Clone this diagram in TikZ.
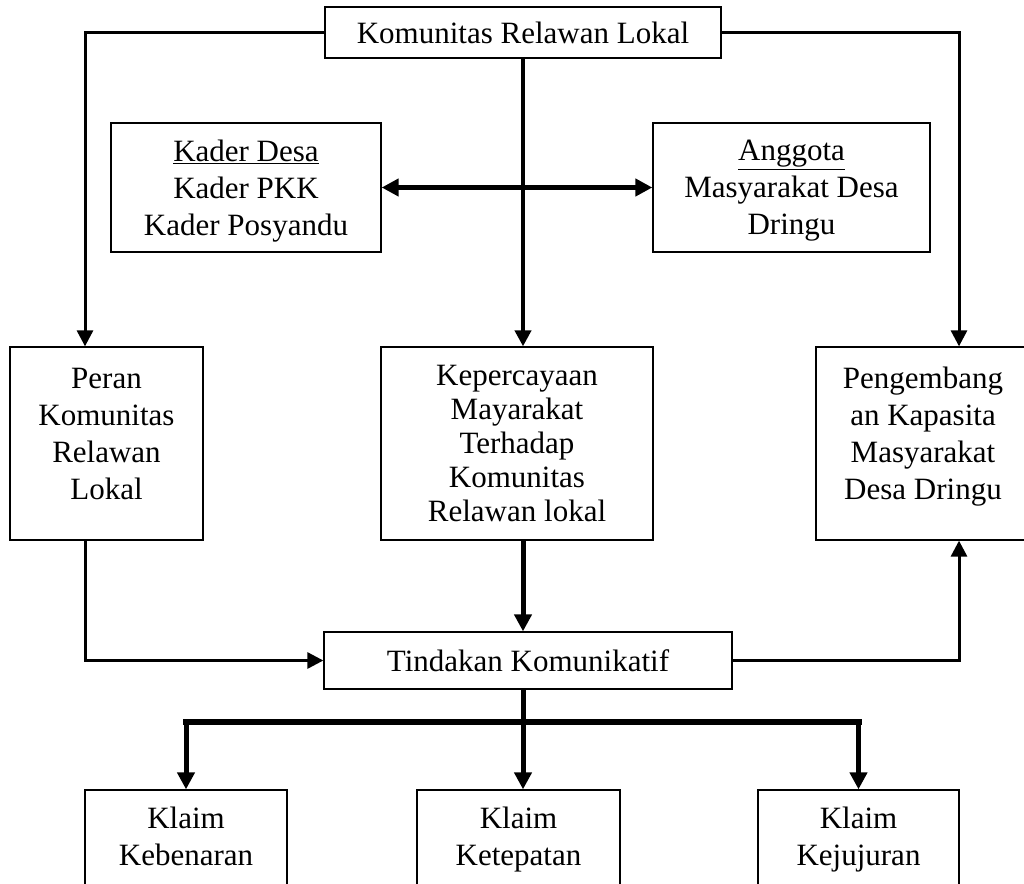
\documentclass[tikz,border=0pt]{standalone}
\usepackage{fontspec}
\setmainfont{Liberation Serif}
\usetikzlibrary{arrows.meta}
\tikzset{
  kotak/.style={draw, line width=1.3pt, align=center, inner sep=0pt,
    font=\fontsize{31}{37}\selectfont},
  garis/.style={line width=3pt, -{Triangle[length=16pt,width=16pt]}},
  garistebal/.style={line width=5pt, -{Triangle[length=17pt,width=17pt]}},
}
\begin{document}
\begin{tikzpicture}[x=1pt,y=-1pt]
\useasboundingbox (0,0) rectangle (1024,883);
\clip (0,0) rectangle (1024,883);

% baris atas
\node[kotak, minimum width=396pt, minimum height=51pt, text depth=-10pt] (kom) at (523,32.5) {Komunitas Relawan Lokal};
\node[kotak, minimum width=270pt, minimum height=129pt, text depth=-9pt] (kader) at (246,187.5)
  {\underline{Kader Desa}\\Kader PKK\\Kader Posyandu};
\node[kotak, minimum width=277pt, minimum height=129pt, text depth=-9pt] (anggota) at (791.5,187.5)
  {\underline{Anggota}\\Masyarakat Desa\\Dringu};

% baris tengah
\node[kotak, minimum width=193pt, minimum height=193pt, text depth=20pt] (peran) at (106.5,443.5)
  {Peran\\Komunitas\\Relawan\\Lokal};
\node[kotak, minimum width=272pt, minimum height=193pt, font=\fontsize{31}{34}\selectfont] (kep) at (517,443.5)
  {Kepercayaan\\Mayarakat\\Terhadap\\Komunitas\\Relawan lokal};
\node[kotak, minimum width=214pt, minimum height=193pt, text depth=21pt] (peng) at (923,443.5)
  {Pengembang\\an Kapasita\\Masyarakat\\Desa Dringu};

\node[kotak, minimum width=408pt, minimum height=57pt] (tind) at (528,660.5) {Tindakan Komunikatif};

% klaim
\node[kotak, minimum width=202pt, minimum height=100pt, text depth=8pt] (k1) at (186,840) {Klaim\\Kebenaran};
\node[kotak, minimum width=203pt, minimum height=100pt, text depth=8pt] (k2) at (518.5,840) {Klaim\\Ketepatan};
\node[kotak, minimum width=201pt, minimum height=100pt, text depth=8pt] (k3) at (858.5,840) {Klaim\\Kejujuran};

% panah
\draw[garis] (kom.west) -| ([xshift=-21.5pt]peran.north);
\draw[garis] (kom.east) -| ([xshift=36pt]peng.north);
\draw[garis, line width=4pt] (kom.south) -- (kom.south |- kep.north);
\draw[garistebal, {Triangle[length=17pt,width=17pt]}-{Triangle[length=17pt,width=17pt]}] (kader.east) -- (anggota.west);
\draw[garis] ([xshift=-21.5pt]peran.south) |- (tind.west);
\draw[garistebal] (kep.south -| kom) -- (tind.north -| kom);
\draw[garis] (tind.east) -| ([xshift=36pt]peng.south);

\coordinate (cabang) at (523,722);
\draw[line width=5pt] (tind.south -| kom) -- (cabang);
\draw[line width=6pt, line cap=rect] (cabang -| k1) -- (cabang -| k3);
\draw[garistebal] (cabang -| k1) -- (k1.north);
\draw[garistebal] (cabang) -- (cabang |- k2.north);
\draw[garistebal] (cabang -| k3) -- (k3.north);
\end{tikzpicture}
\end{document}
